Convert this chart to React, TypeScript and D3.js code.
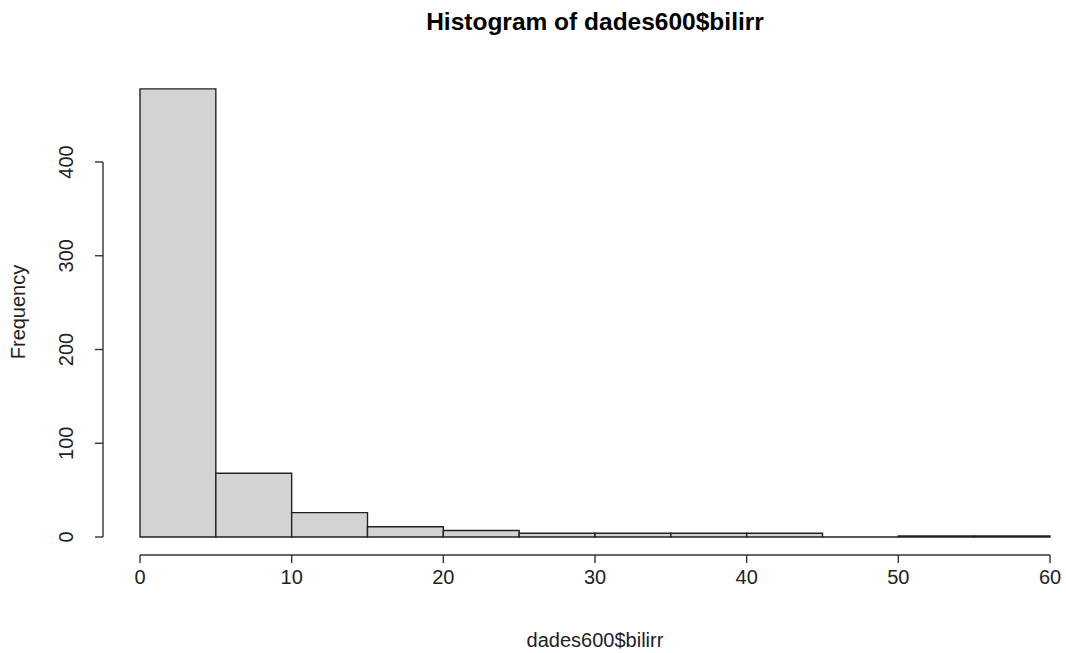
import React from "react";
import * as d3 from "d3";

// Bin edges (width 5) and the count in each bin
const binStarts = [0, 5, 10, 15, 20, 25, 30, 35, 40, 45, 50, 55];
const binWidth = 5;
const counts = [478, 68, 26, 11, 7, 4, 4, 4, 4, 0, 1, 1];
const xTicks = [0, 10, 20, 30, 40, 50, 60];
const yTicks = [0, 100, 200, 300, 400];

const title = "Histogram of dades600$bilirr";
const xLabel = "dades600$bilirr";
const yLabel = "Frequency";

const W = 1066;
const H = 653;
const font = "'Liberation Sans', Arial, sans-serif";

export default function App() {
  const x = d3.scaleLinear().domain([0, 60]).range([140, 1050]);
  const y = d3.scaleLinear().domain([0, 400]).range([537, 162]);
  const axisY = 555;
  const axisX = 103;

  return (
    <svg
      width={W}
      height={H}
      style={{ position: "absolute", left: 0, top: 0, background: "#fff" }}
      fontFamily={font}
    >
      <text x={595} y={30} textAnchor="middle" fontSize={24.5} fontWeight="bold" fill="#000">
        {title}
      </text>

      {/* bars, drawn as closed paths so an empty bin still shows its baseline */}
      {binStarts.map((b, i) => {
        const x0 = x(b);
        const x1 = x(b + binWidth);
        const y0 = y(0);
        const y1 = y(counts[i]);
        return (
          <path
            key={b}
            d={`M${x0},${y0}L${x0},${y1}L${x1},${y1}L${x1},${y0}Z`}
            fill="#d3d3d3"
            stroke="#222"
            strokeWidth={1.4}
          />
        );
      })}

      {/* x axis */}
      <line x1={x(0)} x2={x(60)} y1={axisY} y2={axisY} stroke="#333" strokeWidth={1.4} />
      {xTicks.map((t) => (
        <g key={t}>
          <line x1={x(t)} x2={x(t)} y1={axisY} y2={axisY + 8} stroke="#333" strokeWidth={1.4} />
          <text x={x(t)} y={axisY + 29} textAnchor="middle" fontSize={20} fill="#222">
            {t}
          </text>
        </g>
      ))}
      <text x={595} y={647} textAnchor="middle" fontSize={20} fill="#222">
        {xLabel}
      </text>

      {/* y axis */}
      <line x1={axisX} x2={axisX} y1={y(0)} y2={y(400)} stroke="#333" strokeWidth={1.4} />
      {yTicks.map((t) => (
        <g key={t}>
          <line x1={axisX - 8} x2={axisX} y1={y(t)} y2={y(t)} stroke="#333" strokeWidth={1.4} />
          <text
            transform={`translate(${axisX - 35},${y(t)}) rotate(-90)`}
            textAnchor="middle"
            dominantBaseline="middle"
            fontSize={20}
            fill="#222"
          >
            {t}
          </text>
        </g>
      ))}
      <text
        transform={`translate(20,312) rotate(-90)`}
        textAnchor="middle"
        dominantBaseline="middle"
        fontSize={20}
        fill="#222"
      >
        {yLabel}
      </text>
    </svg>
  );
}
